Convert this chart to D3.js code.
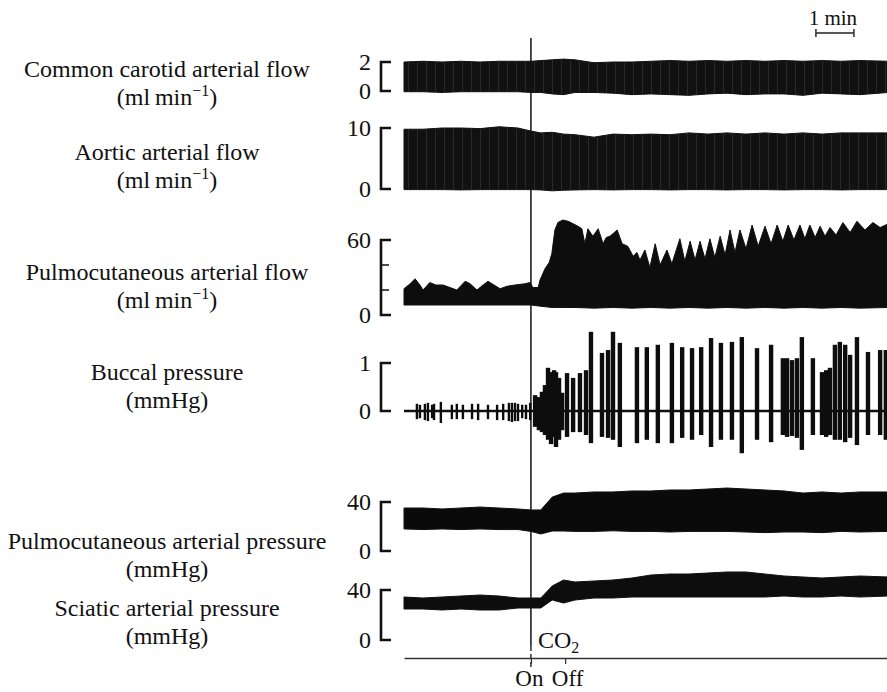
<!DOCTYPE html>
<html>
<head>
<meta charset="utf-8">
<script src="https://cdn.jsdelivr.net/npm/d3@7"></script>
<style>
  body { margin: 0; background: #fff; }
  svg text { font-family: "Liberation Serif", "Times New Roman", serif; fill: #111; }
</style>
</head>
<body>
<svg id="chart" width="887" height="692"></svg>
<script>
// time is in minutes from the start of the record
const onTime = 3.34;
const offTime = 4.24;
const scaleBarStart = 10.84; // "1 min" bar

// shared sample times for the smooth envelopes
const envT = [0, 0.5, 1, 1.5, 2, 2.5, 3, 3.34, 3.6, 3.9, 4.2, 4.5, 5, 5.5, 6, 6.5, 7, 7.5, 8, 8.5, 9, 9.5, 10, 10.5, 11, 11.5, 12, 12.75];

// common carotid flow (ml/min)
const carotidTop = [2.0, 2.05, 2.0, 2.05, 2.0, 2.05, 2.05, 2.05, 2.1, 2.15, 2.2, 2.15, 1.95, 2.0, 2.0, 2.05, 2.1, 2.05, 2.1, 2.05, 2.1, 2.05, 2.1, 2.05, 2.1, 2.05, 2.1, 2.05];
const carotidBot = [-0.05, -0.05, -0.1, -0.05, -0.05, -0.05, -0.05, -0.1, -0.1, -0.2, -0.25, -0.1, -0.1, -0.15, -0.25, -0.2, -0.25, -0.3, -0.2, -0.15, -0.25, -0.2, -0.2, -0.3, -0.15, -0.2, -0.25, -0.1];

// aortic flow (ml/min)
const aorticTop = [9.8, 9.8, 10, 10, 9.9, 10.2, 10, 9.5, 9.2, 9.3, 9.0, 8.9, 8.5, 9.0, 8.9, 9.0, 8.9, 9.2, 9.0, 9.2, 9.0, 9.2, 9.0, 9.2, 9.0, 9.2, 9.2, 9.2];
const aorticBot = [-0.1, -0.1, -0.1, -0.15, -0.1, -0.1, -0.1, -0.1, -0.15, -0.3, -0.2, -0.15, -0.1, -0.15, -0.1, -0.1, -0.15, -0.1, -0.1, -0.15, -0.1, -0.1, -0.15, -0.1, -0.1, -0.15, -0.1, -0.1];

// pulmocutaneous flow (ml/min): top envelope as [t, value], peaks and troughs
const pcFlowTop = [
  [0, 21], [0.16, 25], [0.29, 29], [0.42, 24], [0.5, 20], [0.68, 26], [0.84, 24], [1.03, 24], [1.21, 22], [1.39, 20],
  [1.61, 27], [1.74, 25], [1.92, 20], [2.08, 24], [2.21, 27], [2.37, 24], [2.53, 21], [2.71, 23], [2.92, 24], [3.18, 25],
  [3.32, 26], [3.39, 22], [3.53, 22], [3.58, 28], [3.71, 37], [3.82, 42], [3.89, 49], [3.97, 68], [4.05, 74], [4.18, 76],
  [4.32, 75], [4.45, 73], [4.58, 71], [4.68, 69], [4.76, 57], [4.84, 69], [4.97, 63], [5.11, 69], [5.24, 57], [5.32, 62],
  [5.42, 63], [5.61, 68], [5.74, 57], [5.89, 55], [6.03, 47], [6.13, 50], [6.21, 44], [6.34, 52], [6.47, 38], [6.61, 57],
  [6.74, 40], [6.92, 52], [7.05, 41], [7.26, 61], [7.39, 43], [7.53, 59], [7.66, 44], [7.79, 59], [7.92, 45], [8.05, 61],
  [8.18, 46], [8.32, 63], [8.45, 48], [8.58, 68], [8.71, 50], [8.84, 68], [9.0, 53], [9.16, 72], [9.32, 55], [9.5, 71],
  [9.66, 57], [9.82, 72], [9.97, 59], [10.11, 72], [10.26, 60], [10.42, 72], [10.55, 61], [10.68, 72], [10.82, 62], [10.95, 71],
  [11.08, 63], [11.21, 70], [11.37, 64], [11.55, 74], [11.74, 66], [11.92, 75], [12.13, 68], [12.34, 74], [12.53, 70], [12.75, 73]
];
const pcFlowBot = [8, 8, 8, 8, 8, 8, 8, 8, 7, 6, 6, 6, 5.5, 6, 5.5, 6, 5.5, 6, 5.5, 6, 5.5, 6, 5.5, 6, 5.5, 6, 5.5, 6];

// buccal pressure bursts (mmHg): time, positive and negative excursion
const buccalT = [0.34, 0.42, 0.55, 0.63, 0.74, 0.79, 0.97, 1.26, 1.39, 1.55, 1.79, 1.95, 2.21, 2.45, 2.61, 2.76, 2.84, 2.92, 3.0, 3.11, 3.21, 3.32,
  3.45, 3.55, 3.63, 3.71, 3.79, 3.87, 3.95, 4.0, 4.08, 4.16, 4.29, 4.45, 4.63, 4.79, 4.92, 5.21, 5.37, 5.5, 5.68, 6.13, 6.39, 6.68,
  7.05, 7.32, 7.58, 7.82, 8.08, 8.34, 8.63, 8.89, 9.29, 9.66, 9.97, 10.08, 10.21, 10.34, 10.47, 10.76, 11.0, 11.11, 11.21, 11.34,
  11.47, 11.61, 11.74, 11.92, 12.21, 12.53, 12.68];
const buccalHi = [0.15, 0.13, 0.15, 0.17, 0.13, 0.15, 0.19, 0.13, 0.15, 0.13, 0.15, 0.15, 0.13, 0.13, 0.15, 0.17, 0.17, 0.17, 0.15, 0.13, 0.13, 0.17,
  0.33, 0.29, 0.4, 0.54, 0.9, 0.81, 0.85, 0.81, 0.69, 0.38, 0.79, 0.69, 0.79, 0.85, 1.65, 1.21, 1.27, 1.65, 1.42, 1.33, 1.33, 1.38,
  1.42, 1.33, 1.31, 1.33, 1.52, 1.42, 1.44, 1.54, 1.31, 1.38, 1.1, 1.1, 1.06, 1.1, 1.54, 1.1, 0.81, 0.85, 0.9, 1.38,
  1.44, 1.38, 1.17, 1.54, 1.23, 1.27, 1.27];
const buccalLo = [-0.17, -0.15, -0.19, -0.21, -0.15, -0.19, -0.25, -0.17, -0.17, -0.17, -0.17, -0.19, -0.17, -0.19, -0.19, -0.21, -0.23, -0.21, -0.21, -0.15, -0.17, -0.19,
  -0.33, -0.4, -0.44, -0.5, -0.6, -0.69, -0.54, -0.75, -0.6, -0.4, -0.54, -0.44, -0.44, -0.5, -0.67, -0.54, -0.56, -0.6, -0.75, -0.67, -0.6, -0.67,
  -0.67, -0.56, -0.6, -0.5, -0.75, -0.6, -0.6, -0.88, -0.6, -0.65, -0.5, -0.54, -0.52, -0.56, -0.81, -0.5, -0.5, -0.54, -0.5, -0.6,
  -0.6, -0.65, -0.56, -0.71, -0.5, -0.5, -0.6];

// pulmocutaneous arterial pressure (mmHg)
const pcPressTop = [35.1, 35.1, 34.3, 35.1, 35.9, 35.1, 34.3, 33.5, 33.5, 44, 47.3, 47.3, 48.2, 48.2, 49, 49, 49.8, 49.8, 50.6, 51.4, 50.6, 49.8, 49, 47.3, 48.2, 47.3, 48.2, 48.2];
const pcPressBot = [18, 17.5, 18, 17.5, 18, 17.5, 17.5, 16, 13.9, 16.3, 16.3, 16, 16, 16.5, 16, 16, 15.5, 16, 16, 16, 15.5, 15, 15.5, 15.5, 15, 16, 15.5, 16];

// sciatic arterial pressure (mmHg)
const sciaticTop = [34.4, 33.6, 34.4, 35.2, 36, 35.2, 33.6, 33.6, 33.6, 43.2, 48, 46.4, 47.2, 48, 49.6, 52, 52.8, 52.8, 53.6, 54.4, 54.4, 52.8, 51.2, 50.4, 49.6, 50.4, 51.2, 50.4];
const sciaticBot = [24.8, 24.8, 24, 24.8, 24, 24, 25.6, 25.6, 25.6, 32, 29.6, 32, 33.6, 33.6, 34.4, 34.4, 34.4, 34.4, 34.4, 34.4, 34.4, 34.4, 35.2, 34.4, 34.4, 35.2, 34.4, 35.2];

// panel labels and calibration brackets
const labelTitles = ["Common carotid arterial flow", "Aortic arterial flow", "Pulmocutaneous arterial flow", "Buccal pressure", "Pulmocutaneous arterial pressure", "Sciatic arterial pressure"];
const labelUnits = ["ml", "ml", "ml", "mmHg", "mmHg", "mmHg"];
const scaleMax = [2, 10, 60, 1, 40, 40];
const scaleMinorTicks = [[], [], [20, 40], [], [], []];

// layout (pixel rows of each panel's 0 and max)
const panelPx = [[91, 62], [189, 128], [315, 240], [411, 363], [551, 502], [640, 590]];
const labelY = [69, 152, 272, 372, 541, 608];

const svg = d3.select("#chart");
const x = d3.scaleLinear().domain([0, 12.75]).range([404, 888.5]);
const yScales = panelPx.map((p, i) => d3.scaleLinear().domain([0, scaleMax[i]]).range(p));

// faint streaky texture for the flow recordings
const defs = svg.append("defs");
const pat = defs.append("pattern")
  .attr("id", "streaks")
  .attr("patternUnits", "userSpaceOnUse")
  .attr("width", 9).attr("height", 200);
pat.append("rect").attr("width", 9).attr("height", 200).attr("fill", "#111");
pat.append("rect").attr("x", 3).attr("width", 0.8).attr("height", 200).attr("fill", "#fff").attr("opacity", 0.13);

// CO2 "On" marker line (behind the traces)
svg.append("line")
  .attr("x1", x(onTime)).attr("x2", x(onTime))
  .attr("y1", 38).attr("y2", 646)
  .attr("stroke", "#111").attr("stroke-width", 1.5);
svg.append("line")
  .attr("x1", x(onTime)).attr("x2", x(onTime))
  .attr("y1", 646).attr("y2", 668)
  .attr("stroke", "#111").attr("stroke-width", 1.3)
  .attr("stroke-dasharray", "5,3");

// draw a filled band from a top and bottom envelope
function band(topPts, botPts, y, fill) {
  const line = d3.line().x((d) => x(d[0])).y((d) => y(d[1]));
  const pts = topPts.concat(botPts.slice().reverse());
  svg.append("path")
    .attr("d", line(pts) + "Z")
    .attr("fill", fill)
    .attr("stroke", "#111")
    .attr("stroke-width", 1)
    .attr("stroke-linejoin", "round");
}
const zip = (t, v) => t.map((d, i) => [d, v[i]]);

band(zip(envT, carotidTop), zip(envT, carotidBot), yScales[0], "url(#streaks)");
band(zip(envT, aorticTop), zip(envT, aorticBot), yScales[1], "url(#streaks)");
band(pcFlowTop, zip(envT, pcFlowBot), yScales[2], "#0d0d0d");
band(zip(envT, pcPressTop), zip(envT, pcPressBot), yScales[4], "#0a0a0a");
band(zip(envT, sciaticTop), zip(envT, sciaticBot), yScales[5], "#0d0d0d");

// buccal pressure: baseline plus bursts
const yB = yScales[3];
svg.append("line")
  .attr("x1", x(0)).attr("x2", x(12.75))
  .attr("y1", yB(0)).attr("y2", yB(0))
  .attr("stroke", "#111").attr("stroke-width", 2.5);
svg.selectAll(".burst")
  .data(buccalT.map((t, i) => ({ t, hi: buccalHi[i], lo: buccalLo[i] })))
  .enter()
  .append("rect")
  .attr("class", "burst")
  .attr("x", (d) => x(d.t) - (d.t < onTime ? 1.2 : 2.2))
  .attr("width", (d) => (d.t < onTime ? 2.4 : 4.4))
  .attr("y", (d) => yB(d.hi))
  .attr("height", (d) => yB(d.lo) - yB(d.hi))
  .attr("fill", "#0d0d0d");

// labels on the left
const labels = svg.append("g").attr("text-anchor", "middle").attr("font-size", 24);
labelTitles.forEach((title, i) => {
  labels.append("text").attr("x", 167).attr("y", labelY[i] + 8).text(title);
  const u = labels.append("text").attr("x", 167).attr("y", labelY[i] + 36);
  u.append("tspan").text("(" + labelUnits[i]);
  if (labelUnits[i] === "ml") {
    u.append("tspan").text("\u2009min");
    u.append("tspan").attr("font-size", 16).attr("dy", -9).text("\u22121");
    u.append("tspan").attr("dy", 9).text(")");
  } else {
    u.append("tspan").text(")");
  }
});

// calibration brackets
scaleMax.forEach((m, i) => {
  const y = yScales[i];
  const g = svg.append("g");
  g.append("path")
    .attr("d", `M391,${y(m)}H381V${y(0)}H391`)
    .attr("fill", "none").attr("stroke", "#111").attr("stroke-width", 2.6);
  scaleMinorTicks[i].forEach((v) => {
    g.append("line").attr("x1", 381).attr("x2", 389)
      .attr("y1", y(v)).attr("y2", y(v))
      .attr("stroke", "#111").attr("stroke-width", 1.5);
  });
  [0, m].forEach((v) => {
    g.append("text")
      .attr("x", 371).attr("y", y(v) + 8)
      .attr("text-anchor", "end").attr("font-size", 24)
      .text(v);
  });
});

// CO2 label
const co2 = svg.append("text").attr("x", 538).attr("y", 648).attr("font-size", 24);
co2.append("tspan").text("CO");
co2.append("tspan").attr("font-size", 16).attr("dy", 5).text("2");

// time axis with On / Off marks
const axis = d3.axisBottom(x)
  .tickValues([onTime, offTime])
  .tickFormat((d, i) => ["On", "Off"][i])
  .tickSize(6)
  .tickSizeOuter(0)
  .tickPadding(6);
const ax = svg.append("g").attr("transform", "translate(0,658)").call(axis);
ax.select(".domain").attr("stroke", "#333").attr("stroke-width", 1.3);
ax.selectAll(".tick line").attr("stroke", "#333").attr("stroke-width", 1.3);
ax.selectAll(".tick text")
  .attr("font-size", 23)
  .attr("font-family", "Liberation Serif, Times New Roman, serif")
  .attr("fill", "#111");
ax.selectAll(".tick text").attr("dx", (d, i) => (i === 0 ? -2 : 2));

// 1 min scale bar
const sb = svg.append("g").attr("stroke", "#222").attr("stroke-width", 1.4);
sb.append("line").attr("x1", x(scaleBarStart)).attr("x2", x(scaleBarStart + 1)).attr("y1", 33).attr("y2", 33);
sb.append("line").attr("x1", x(scaleBarStart)).attr("x2", x(scaleBarStart)).attr("y1", 29).attr("y2", 37);
sb.append("line").attr("x1", x(scaleBarStart + 1)).attr("x2", x(scaleBarStart + 1)).attr("y1", 29).attr("y2", 37);
svg.append("text")
  .attr("x", (x(scaleBarStart) + x(scaleBarStart + 1)) / 2 - 2)
  .attr("y", 25).attr("text-anchor", "middle").attr("font-size", 21)
  .text("1 min");
</script>
</body>
</html>
